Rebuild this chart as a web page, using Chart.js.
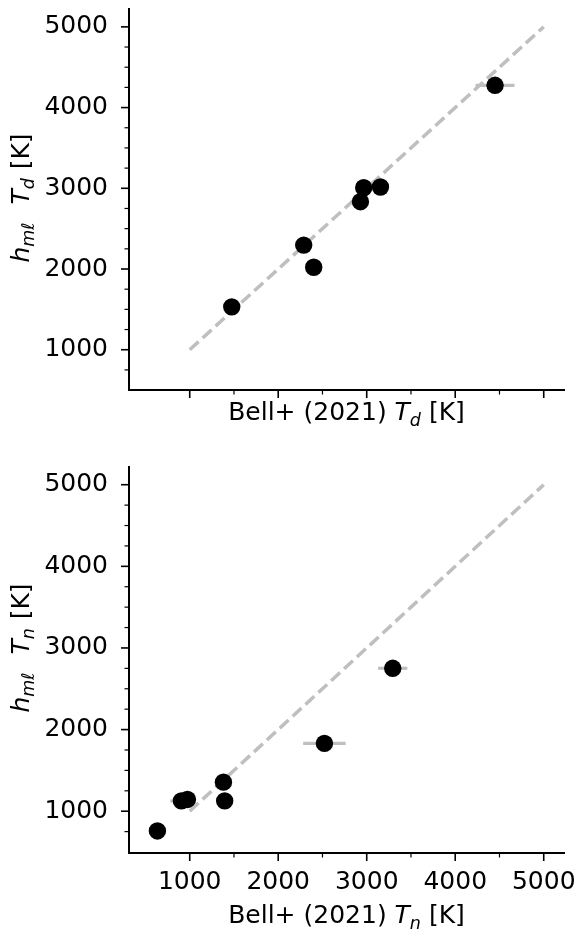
<!DOCTYPE html>
<html>
<head>
<meta charset="utf-8">
<script src="https://cdn.jsdelivr.net/npm/chart.js@4.4.0/dist/chart.umd.min.js"></script>
<style>
    html, body { margin: 0; padding: 0; background: #fff; }
    body { width: 579px; height: 932px; position: relative; overflow: hidden; }
    .painel { position: absolute; left: 0; width: 579px; }
    #painelTd { top: 0; height: 440px; }
    #painelTn { top: 440px; height: 492px; }
</style>
</head>
<body>
<div class="painel" id="painelTd"><canvas id="graficoTd"></canvas></div>
<div class="painel" id="painelTn"><canvas id="graficoTn"></canvas></div>
<script>
// dados
const bellTd = [1475, 2288, 2401, 2929, 2966, 3155, 4450];
const hmlTd = [1531, 2296, 2022, 2834, 3007, 3016, 4276];
const erroBellTd = [0, 0, 0, 0, 0, 0, 220];

const bellTn = [635, 906, 974, 1381, 1395, 2522, 3294];
const hmlTn = [758, 1126, 1144, 1356, 1126, 1831, 2751];
const erroBellTn = [0, 125, 0, 0, 0, 240, 165];

// linha 1:1
const linhaUm = [1000, 5000];

// ticks
const ticksMaiores = [1000, 2000, 3000, 4000, 5000];
const ticksMenoresX = [1500, 2500, 3500, 4500];
const ticksMenoresY = [750, 1250, 1500, 1750, 2250, 2500, 2750, 3250, 3500, 3750, 4250, 4500, 4750];

const FONTE = '"DejaVu Sans", "Liberation Sans", sans-serif';
const CINZA = "#bfbfbf";

// desenha texto com itálico e subscrito (tipo mathtext)
function textoRico(ctx, partes, cx, cy, tamanho, girar) {
    const fonte = p => `${p.it ? "italic " : ""}${p.sub ? tamanho * 0.7 : tamanho}px ${FONTE}`;
    ctx.save();
    ctx.translate(cx, cy);
    if (girar) ctx.rotate(-Math.PI / 2);
    let total = 0;
    partes.forEach(p => { ctx.font = fonte(p); total += ctx.measureText(p.t).width + (p.extra || 0); });
    let x = -total / 2;
    ctx.textBaseline = "alphabetic";
    ctx.textAlign = "left";
    ctx.fillStyle = "#000";
    partes.forEach(p => {
        ctx.font = fonte(p);
        ctx.fillText(p.t, x, p.sub ? tamanho * 0.22 : 0);
        x += ctx.measureText(p.t).width + (p.extra || 0);
    });
    ctx.restore();
}

// ticks maiores e menores, fora da área
const marcasEixos = {
    id: "marcasEixos",
    afterDraw(chart) {
        const { ctx, scales: { x, y } } = chart;
        ctx.save();
        ctx.strokeStyle = "#000";
        const marcar = (valores, comp, larg) => {
            ctx.lineWidth = larg;
            valores.forEach(v => {
                const px = x.getPixelForValue(v);
                ctx.beginPath();
                ctx.moveTo(px, x.top);
                ctx.lineTo(px, x.top + comp);
                ctx.stroke();
            });
        };
        const marcarY = (valores, comp, larg) => {
            ctx.lineWidth = larg;
            valores.forEach(v => {
                const py = y.getPixelForValue(v);
                ctx.beginPath();
                ctx.moveTo(y.right, py);
                ctx.lineTo(y.right - comp, py);
                ctx.stroke();
            });
        };
        marcar(ticksMaiores, 8, 1.6);
        marcar(ticksMenoresX, 4.5, 1.2);
        marcarY(ticksMaiores, 8, 1.6);
        marcarY(ticksMenoresY, 4.5, 1.2);
        ctx.restore();

        const o = chart.options.plugins.marcasEixos;
        textoRico(ctx, o.tituloX, (x.left + x.right) / 2, o.baseX, 25, false);
        textoRico(ctx, o.tituloY, 28.5, o.centroY, 25, true);
    }
};

// barras de erro horizontais, por baixo dos pontos
const barrasErro = {
    id: "barrasErro",
    beforeDatasetsDraw(chart) {
        const { ctx, scales: { x, y } } = chart;
        const ds = chart.data.datasets[0];
        const erros = chart.options.plugins.barrasErro.erros;
        ctx.save();
        ctx.strokeStyle = CINZA;
        ctx.lineWidth = 3.2;
        ds.data.forEach((p, i) => {
            if (!erros[i]) return;
            const py = y.getPixelForValue(p.y);
            ctx.beginPath();
            ctx.moveTo(x.getPixelForValue(p.x - erros[i]), py);
            ctx.lineTo(x.getPixelForValue(p.x + erros[i]), py);
            ctx.stroke();
        });
        ctx.restore();
    }
};

function criarGrafico(id, xs, ys, erros, cfg) {
    const ctx = document.getElementById(id).getContext("2d");
    return new Chart(ctx, {
        type: "scatter",
        data: {
            datasets: [{
                data: xs.map((v, i) => ({ x: v, y: ys[i] })),
                pointRadius: 8.7,
                pointBorderWidth: 0,
                pointBackgroundColor: "#000",
                clip: false
            }, {
                data: linhaUm.map(v => ({ x: v, y: v })),
                showLine: true,
                borderColor: CINZA,
                borderWidth: 3.5,
                borderDash: [12, 5.5],
                pointRadius: 0
            }]
        },
        plugins: [barrasErro, marcasEixos],
        options: {
            responsive: true,
            maintainAspectRatio: false,
            animation: false,
            layout: { padding: { top: cfg.topo, right: 15, left: 0, bottom: 0 } },
            plugins: {
                legend: { display: false },
                tooltip: { enabled: false },
                barrasErro: { erros: erros },
                marcasEixos: { tituloX: cfg.tituloX, tituloY: cfg.tituloY, baseX: cfg.baseX, centroY: cfg.centroY }
            },
            scales: {
                x: {
                    type: "linear",
                    min: 314, max: 5229,
                    grid: { display: false, drawTicks: false },
                    border: { display: true, color: "#000", width: 2 },
                    ticks: {
                        display: cfg.rotulosX,
                        padding: 14,
                        color: "#000",
                        autoSkip: false,
                        maxRotation: 0,
                        font: { family: FONTE, size: 25 },
                        callback: v => String(v)
                    },
                    afterBuildTicks: s => { s.ticks = ticksMaiores.map(v => ({ value: v })); },
                    afterFit: s => { s.height = cfg.alturaX; s.paddingLeft = 0; s.paddingRight = 0; }
                },
                y: {
                    type: "linear",
                    min: cfg.yMin, max: cfg.yMax,
                    grid: { display: false, drawTicks: false },
                    border: { display: true, color: "#000", width: 2 },
                    ticks: {
                        padding: 21,
                        color: "#000",
                        autoSkip: false,
                        font: { family: FONTE, size: 25 },
                        callback: v => String(v)
                    },
                    afterBuildTicks: s => { s.ticks = ticksMaiores.map(v => ({ value: v })); },
                    afterFit: s => { s.width = 129; s.paddingTop = 0; s.paddingBottom = 0; }
                }
            }
        }
    });
}

window.onload = () => {
    criarGrafico("graficoTd", bellTd, hmlTd, erroBellTd, {
        topo: 5, alturaX: 50, yMin: 501, yMax: 5225, rotulosX: false, baseX: 420, centroY: 198,
        tituloX: [{ t: "Bell+ (2021) " }, { t: "T", it: true }, { t: "d", it: true, sub: true }, { t: " [K]" }],
        tituloY: [{ t: "h", it: true }, { t: "m\u2113", it: true, sub: true, extra: 2 }, { t: "  " }, { t: "T", it: true }, { t: "d", it: true, sub: true, extra: 1 }, { t: " [K]" }]
    });
    criarGrafico("graficoTn", bellTn, hmlTn, erroBellTn, {
        topo: 27, alturaX: 79, yMin: 488, yMax: 5217, rotulosX: true, baseX: 483, centroY: 208,
        tituloX: [{ t: "Bell+ (2021) " }, { t: "T", it: true }, { t: "n", it: true, sub: true }, { t: " [K]" }],
        tituloY: [{ t: "h", it: true }, { t: "m\u2113", it: true, sub: true, extra: 2 }, { t: "  " }, { t: "T", it: true }, { t: "n", it: true, sub: true, extra: 1 }, { t: " [K]" }]
    });
};
</script>
</body>
</html>
